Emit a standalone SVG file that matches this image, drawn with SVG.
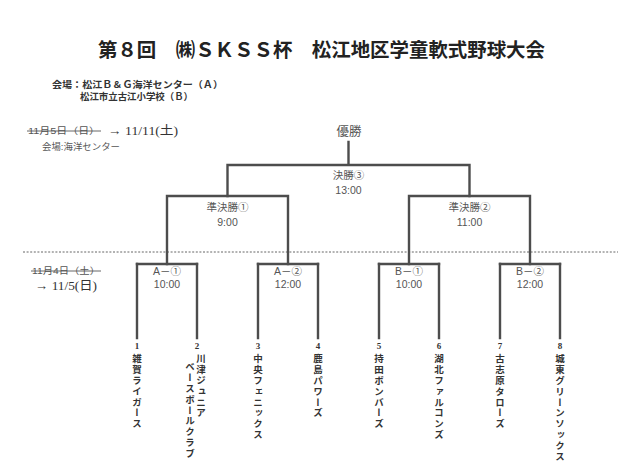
<svg xmlns="http://www.w3.org/2000/svg" width="640" height="470" viewBox="0 0 640 470">
<style>
.ln{stroke:#4d4d4d;stroke-width:2.4;fill:none;stroke-linecap:square}
.dash{stroke:#666;stroke-width:1;stroke-dasharray:2 1.6;fill:none}
.lbl{font-family:"Liberation Sans","Noto Sans CJK JP",sans-serif;fill:#555;text-anchor:middle;font-size:10.5px}
.title{font-family:"Liberation Serif","Noto Sans CJK JP",serif;font-weight:bold;fill:#222;font-size:19.5px}
.venue{font-family:"Liberation Serif","Noto Sans CJK JP",serif;font-weight:bold;fill:#333;font-size:9.5px}
.small{font-family:"Liberation Sans","Noto Sans CJK JP",sans-serif;fill:#555;font-size:9px}
.date{font-family:"Liberation Serif","Noto Sans CJK JP",serif;fill:#333;font-size:12.5px}
.num{font-family:"Liberation Serif",serif;font-weight:bold;fill:#333;font-size:9px;text-anchor:middle}
.team{font-family:"Noto Sans CJK JP",sans-serif;font-weight:bold;fill:#333;font-size:9.5px;writing-mode:vertical-rl;letter-spacing:1.3px}
</style>
<rect width="640" height="470" fill="#fff"/>
<g id="header">
<text class="title" x="98" y="57" textLength="447" lengthAdjust="spacingAndGlyphs">第８回　㈱ＳＫＳＳ杯　松江地区学童軟式野球大会</text>
<text class="venue" x="52" y="88" textLength="171" lengthAdjust="spacingAndGlyphs">会場：松江Ｂ＆Ｇ海洋センター（Ａ）</text>
<text class="venue" x="80" y="100" textLength="113" lengthAdjust="spacingAndGlyphs">松江市立古江小学校（Ｂ）</text>
<text class="small" x="28" y="134" textLength="72" lengthAdjust="spacingAndGlyphs">11月5日（日）</text>
<line x1="27" y1="131" x2="101" y2="131" stroke="#555" stroke-width="0.9"/>
<text class="date" x="108" y="135" textLength="70" lengthAdjust="spacingAndGlyphs">→ 11/11(土)</text>
<text class="small" x="42" y="150" textLength="78" lengthAdjust="spacingAndGlyphs">会場:海洋センター</text>
<text class="small" x="32" y="274" textLength="68" lengthAdjust="spacingAndGlyphs">11月4日（土）</text>
<line x1="31" y1="271" x2="101" y2="271" stroke="#555" stroke-width="0.9"/>
<text class="date" x="35" y="290" textLength="62" lengthAdjust="spacingAndGlyphs">→ 11/5(日)</text>
</g>
<line id="divider" class="dash" x1="23" y1="252" x2="618" y2="252"/>
<g id="connectors">
<path class="ln" d="M348.5 142V165M227.5 165H469.5M227.5 165V196M469.5 165V196"/>
<path class="ln" d="M167 196H288M409 196H530M167 196V264M288 196V264M409 196V264M530 196V264"/>
<path class="ln" d="M137 264H197M258 264H318M379 264H439M500 264H560"/>
<path class="ln" d="M137 264V338M197 264V338M258 264V338M318 264V338M379 264V338M439 264V338M500 264V338M560 264V338"/>
</g>
<g id="champion"><text class="lbl" x="349" y="136" style="font-size:12.5px">優勝</text></g>
<g id="final"><text class="lbl" x="348.5" y="179">決勝③</text><text class="lbl" x="348.5" y="194">13:00</text></g>
<g id="semi1"><text class="lbl" x="227.5" y="211">準決勝①</text><text class="lbl" x="227.5" y="226">9:00</text></g>
<g id="semi2"><text class="lbl" x="469.5" y="211">準決勝②</text><text class="lbl" x="469.5" y="226">11:00</text></g>
<g id="qA1"><text class="lbl" x="167" y="275">A－①</text><text class="lbl" x="167" y="288">10:00</text></g>
<g id="qA2"><text class="lbl" x="288" y="275">A－②</text><text class="lbl" x="288" y="288">12:00</text></g>
<g id="qB1"><text class="lbl" x="409" y="275">B－①</text><text class="lbl" x="409" y="288">10:00</text></g>
<g id="qB2"><text class="lbl" x="530" y="275">B－②</text><text class="lbl" x="530" y="288">12:00</text></g>
<g id="team1"><text class="num" x="137" y="349">1</text><text class="team" x="137" y="354">雑賀ライガース</text></g>
<g id="team2"><text class="num" x="197" y="349">2</text><text class="team" x="201" y="354">川津ジュニア</text><text class="team" x="190" y="362">ベースボールクラブ</text></g>
<g id="team3"><text class="num" x="258" y="349">3</text><text class="team" x="258" y="354">中央フェニックス</text></g>
<g id="team4"><text class="num" x="318" y="349">4</text><text class="team" x="318" y="354">鹿島パワーズ</text></g>
<g id="team5"><text class="num" x="379" y="349">5</text><text class="team" x="379" y="354">持田ボンバーズ</text></g>
<g id="team6"><text class="num" x="439" y="349">6</text><text class="team" x="439" y="354">湖北ファルコンズ</text></g>
<g id="team7"><text class="num" x="500" y="349">7</text><text class="team" x="500" y="354">古志原タローズ</text></g>
<g id="team8"><text class="num" x="560" y="349">8</text><text class="team" x="560" y="354">城東グリーンソックス</text></g>
</svg>
